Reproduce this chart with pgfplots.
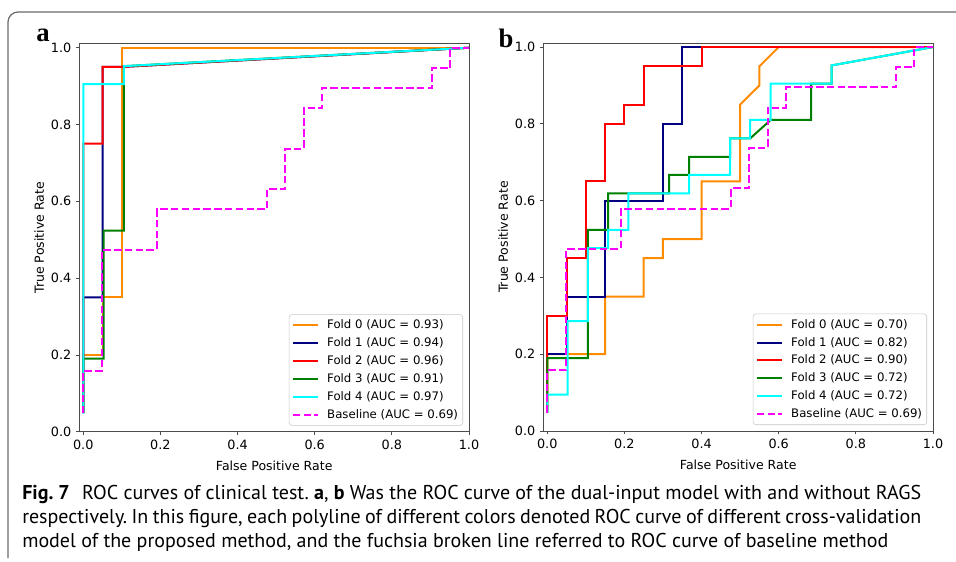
\documentclass[border=0pt]{standalone}
\usepackage{pgfplots}
\pgfplotsset{compat=1.18}
\usepackage{fontspec}
\setmainfont{DejaVu Sans}
\newfontfamily\capfont{PT Sans}
\newfontfamily\panelfont{Liberation Serif}

\definecolor{dorange}{HTML}{FF8C00}
\definecolor{mnavy}{HTML}{000080}
\definecolor{mred}{HTML}{FF0000}
\definecolor{mgreen}{HTML}{008000}
\definecolor{mcyan}{HTML}{00FFFF}
\definecolor{mmagenta}{HTML}{FF00FF}
\definecolor{framegray}{HTML}{6A6A6A}

% baseline curve, same in both panels
\pgfplotstableread{
x y
0 0.048
0 0.158
0.048 0.158
0.048 0.474
0.190 0.474
0.190 0.579
0.476 0.579
0.476 0.632
0.524 0.632
0.524 0.737
0.571 0.737
0.571 0.842
0.619 0.842
0.619 0.895
0.905 0.895
0.905 0.947
0.952 0.947
0.952 1.0
1.0 1.0
}\baseline

\pgfplotsset{
  rocax/.style={
    width=292.2pt, height=290.85pt, scale only axis,
    xmin=-0.01, xmax=1.0, ymin=0, ymax=1.01,
    xtick={0,0.2,0.4,0.6,0.8,1.0}, ytick={0,0.2,0.4,0.6,0.8,1.0},
    tick pos=left, tick align=outside, major tick length=2.6pt,
    /pgf/number format/assume math mode=true,
    xticklabel style={/pgf/number format/fixed, /pgf/number format/fixed zerofill, /pgf/number format/precision=1},
    yticklabel style={/pgf/number format/fixed, /pgf/number format/fixed zerofill, /pgf/number format/precision=1},
    ticklabel style={font=\fontsize{9.6}{11}\selectfont},
    axis line style={black!70, line width=0.6pt},
    every tick/.style={black!70, line width=0.6pt},
    xlabel={False Positive Rate}, ylabel={True Positive Rate},
    label style={font=\fontsize{9.4}{11}\selectfont},
    xlabel style={at={(axis description cs:0.5,-0.0885)}, anchor=center},
    ylabel style={at={(axis description cs:-0.103,0.5)}, anchor=center},
    legend cell align=left,
    legend image code/.code={\draw[#1] (0pt,0pt) -- (19pt,0pt);},
    legend style={at={(axis description cs:1,0)}, anchor=south east,
      xshift=-4.5pt, yshift=4.5pt, draw=black!22, rounded corners=2pt,
      font=\fontsize{8.8}{10}\selectfont, row sep=2.2pt,
      inner xsep=2pt, inner ysep=2.5pt,
      nodes={inner sep=1.5pt},
      /tikz/every odd column/.append style={column sep=4.5pt}},
    every axis plot/.append style={line width=1.5pt},
  },
}

\begin{document}
\begin{tikzpicture}[x=0.75pt, y=0.75pt]
\useasboundingbox (0,0) rectangle (956,561);

% frame round the figure
\draw[framegray, line width=0.9pt, rounded corners=7.5pt] (8,3) -- (8,549) -- (956,549);

% panel a
\begin{axis}[rocax, at={(59.55pt,96.975pt)}, anchor=south west]
\addplot[dorange] coordinates {(0,0.05) (0,0.2) (0.05,0.2) (0.05,0.35) (0.1,0.35) (0.1,1) (1,1)};
\addplot[mnavy] coordinates {(0,0.05) (0,0.35) (0.05,0.35) (0.05,0.95) (0.1,0.95) (1,1)};
\addplot[mred] coordinates {(0,0.05) (0,0.75) (0.05,0.75) (0.05,0.95) (0.1,0.95) (1,1)};
\addplot[mgreen] coordinates {(0,0.048) (0,0.19) (0.053,0.19) (0.053,0.524) (0.105,0.524) (0.105,0.952) (1,1)};
\addplot[mcyan] coordinates {(0,0.048) (0,0.905) (0.105,0.905) (0.105,0.952) (1,1)};
\addplot[mmagenta, dash pattern=on 5.6pt off 2.5pt] table {\baseline};
\legend{Fold 0 (AUC = 0.93), Fold 1 (AUC = 0.94), Fold 2 (AUC = 0.96), Fold 3 (AUC = 0.91), Fold 4 (AUC = 0.97), Baseline (AUC = 0.69)}
\end{axis}

% panel b
\begin{axis}[rocax, at={(407.55pt,97.5pt)}, anchor=south west]
\addplot[dorange] coordinates {(0,0.05) (0,0.2) (0.15,0.2) (0.15,0.35) (0.25,0.35) (0.25,0.45) (0.3,0.45) (0.3,0.5) (0.4,0.5) (0.4,0.65) (0.5,0.65) (0.5,0.85) (0.55,0.9) (0.55,0.95) (0.6,1) (1,1)};
\addplot[mnavy] coordinates {(0,0.05) (0,0.2) (0.05,0.2) (0.05,0.35) (0.15,0.35) (0.15,0.6) (0.3,0.6) (0.3,0.8) (0.35,0.8) (0.35,1) (1,1)};
\addplot[mred] coordinates {(0,0.05) (0,0.3) (0.05,0.3) (0.05,0.45) (0.1,0.45) (0.1,0.65) (0.15,0.65) (0.15,0.8) (0.2,0.8) (0.2,0.85) (0.25,0.85) (0.25,0.95) (0.4,0.95) (0.4,1) (1,1)};
\addplot[mgreen] coordinates {(0,0.048) (0,0.19) (0.105,0.19) (0.105,0.524) (0.158,0.524) (0.158,0.619) (0.316,0.619) (0.316,0.667) (0.368,0.667) (0.368,0.714) (0.474,0.714) (0.474,0.762) (0.526,0.762) (0.579,0.81) (0.684,0.81) (0.684,0.905) (0.737,0.905) (0.737,0.952) (1,1)};
\addplot[mcyan] coordinates {(0,0.048) (0,0.095) (0.053,0.095) (0.053,0.286) (0.105,0.286) (0.105,0.476) (0.158,0.476) (0.158,0.524) (0.21,0.524) (0.21,0.619) (0.368,0.619) (0.368,0.667) (0.474,0.667) (0.474,0.762) (0.526,0.762) (0.526,0.81) (0.579,0.81) (0.579,0.905) (0.737,0.905) (0.737,0.952) (1,1)};
\addplot[mmagenta, dash pattern=on 5.6pt off 2.5pt] table {\baseline};
\legend{Fold 0 (AUC = 0.70), Fold 1 (AUC = 0.82), Fold 2 (AUC = 0.90), Fold 3 (AUC = 0.72), Fold 4 (AUC = 0.72), Baseline (AUC = 0.69)}
\end{axis}

% panel letters
\node[font=\panelfont\bfseries\fontsize{20}{20}\selectfont, inner sep=0pt] at (43,526) {a};
\node[font=\panelfont\bfseries\fontsize{20}{20}\selectfont, inner sep=0pt] at (506,522.7) {b};

% caption
\begin{scope}[every node/.style={anchor=base west, inner sep=0pt, font=\capfont\fontsize{15}{17}\selectfont\frenchspacing}]
\node at (22,62) {\makebox[674.25pt][s]{\textbf{Fig. 7}\hspace{0.35em} ROC curves of clinical test. \textbf{a}, \textbf{b} Was the ROC curve of the dual-input model with and without RAGS}};
\node at (22,38) {\makebox[674.25pt][s]{respectively. In this figure, each polyline of different colors denoted ROC curve of different cross-validation}};
\node at (22,14) {model of the proposed method, and the fuchsia broken line referred to ROC curve of baseline method};
\end{scope}
\end{tikzpicture}
\end{document}
